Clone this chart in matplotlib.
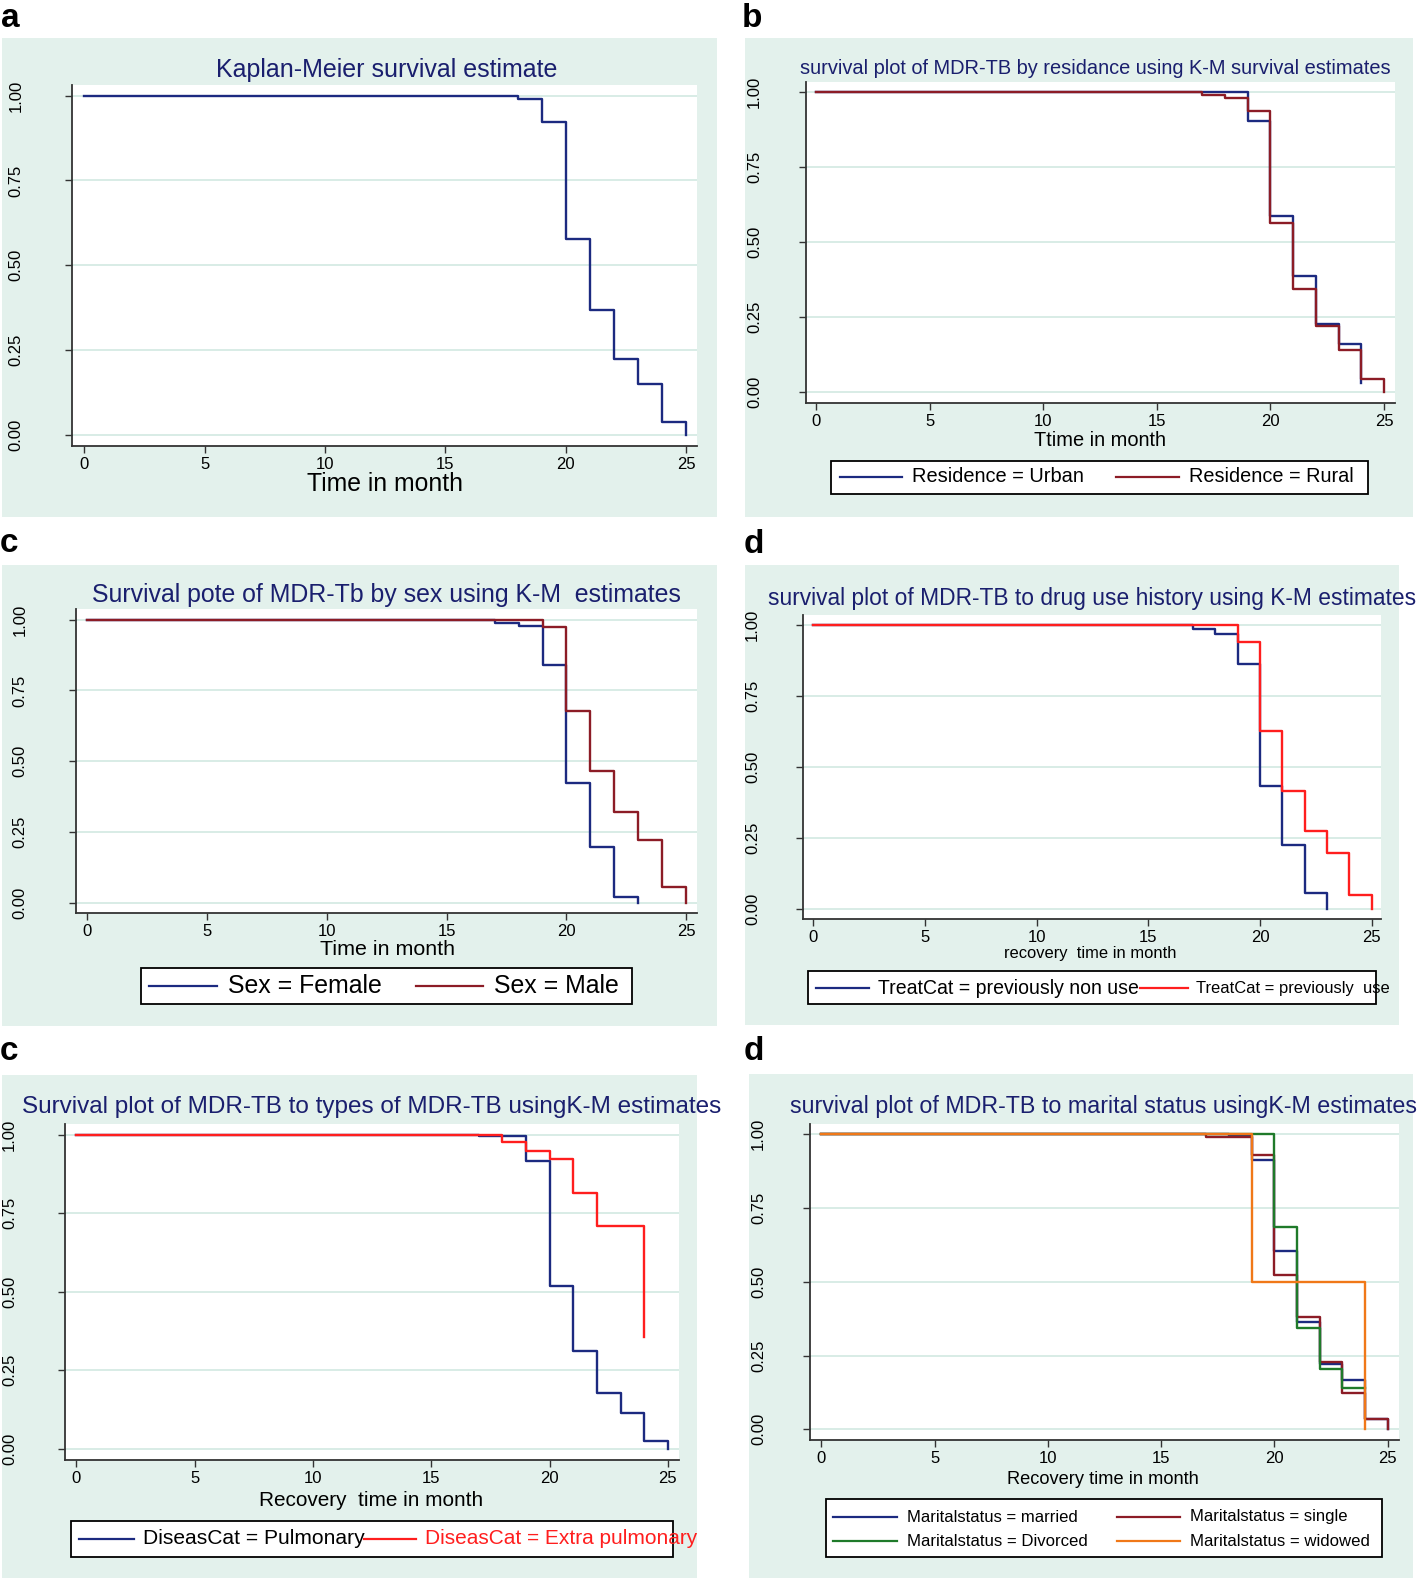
import matplotlib
matplotlib.use("Agg")
import matplotlib.pyplot as plt
from matplotlib.patches import Rectangle
from matplotlib.lines import Line2D

plt.rcParams['font.family'] = ['Liberation Sans', 'DejaVu Sans']

# ---- data: Kaplan-Meier steps (time in month, survival after the drop) ----
all_t = [0, 17, 18, 19, 20, 21, 22, 23, 24, 25]
all_s = [1.0, 0.998, 0.990, 0.921, 0.577, 0.367, 0.224, 0.151, 0.036, 0.0]

urban_t = [0, 19, 20, 21, 22, 23, 24]
urban_s = [1.0, 0.904, 0.586, 0.388, 0.227, 0.161, 0.032]
rural_t = [0, 17, 18, 19, 20, 21, 22, 23, 24, 25]
rural_s = [1.0, 0.992, 0.982, 0.939, 0.563, 0.343, 0.220, 0.142, 0.043, 0.0]

female_t = [0, 17, 18, 19, 20, 21, 22, 23]
female_s = [1.0, 0.990, 0.979, 0.841, 0.422, 0.197, 0.021, 0.0]
male_t = [0, 19, 20, 21, 22, 23, 24, 25]
male_s = [1.0, 0.975, 0.676, 0.464, 0.320, 0.223, 0.055, 0.0]

nonuse_t = [0, 17, 18, 19, 20, 21, 22, 23]
nonuse_s = [1.0, 0.986, 0.969, 0.863, 0.431, 0.226, 0.056, 0.0]
use_t = [0, 19, 20, 21, 22, 23, 24, 25]
use_s = [1.0, 0.940, 0.625, 0.414, 0.274, 0.197, 0.047, 0.0]

pulm_t = [0, 17, 19, 20, 21, 22, 23, 24, 25]
pulm_s = [1.0, 0.994, 0.916, 0.517, 0.310, 0.177, 0.114, 0.026, 0.0]
extra_t = [0, 18, 19, 20, 21, 22, 24]
extra_s = [1.0, 0.975, 0.949, 0.922, 0.814, 0.710, 0.356]

married_t = [0, 18, 19, 20, 21, 22, 23, 24, 25]
married_s = [1.0, 0.993, 0.912, 0.603, 0.363, 0.220, 0.167, 0.034, 0.0]
single_t = [0, 17, 19, 20, 21, 22, 23, 24, 25]
single_s = [1.0, 0.989, 0.930, 0.522, 0.380, 0.229, 0.123, 0.036, 0.0]
divorced_t = [0, 20, 21, 22, 23, 24]
divorced_s = [1.0, 0.684, 0.343, 0.206, 0.139, 0.139]
widowed_t = [0, 19, 24]
widowed_s = [1.0, 0.5, 0.0]

x_ticks = [0, 5, 10, 15, 20, 25]
y_ticks = [0, 0.25, 0.5, 0.75, 1.0]
y_labels = ["0.00", "0.25", "0.50", "0.75", "1.00"]

# ---- colours ----
BG = '#e3f1ec'
TITLE = '#1a1f6e'
NAVY = '#1c2a80'
MAROON = '#8c1c26'
RED = '#ff1e1e'
GREEN = '#1f7a2a'
ORANGE = '#f07818'

W, H = 1417, 1578
fig = plt.figure(figsize=(W / 100, H / 100), dpi=100)
to_fit = []


def fx(x):
    return x / W


def fy(y):
    return 1 - y / H


def text(x, y, s, width=None, ha='left', color='black', size=12, **kw):
    t = fig.text(fx(x), fy(y), s, ha=ha, va='center', color=color,
                 fontsize=size, **kw)
    if width:
        to_fit.append((t, width))
    return t


def background(x0, y0, x1, y1):
    fig.add_artist(Rectangle((fx(x0), fy(y1)), (x1 - x0) / W, (y1 - y0) / H,
                             transform=fig.transFigure, facecolor=BG,
                             edgecolor='none', zorder=-5))


def km_axes(left, top, right, bottom, x0px, x25px, y1px, y0px, ypad):
    ax = fig.add_axes([fx(left), fy(bottom), (right - left) / W, (bottom - top) / H])
    ux = (x25px - x0px) / 25
    ax.set_xlim((left - x0px) / ux, (right - x0px) / ux)
    uy = y0px - y1px
    ax.set_ylim((y0px - bottom) / uy, (y0px - top) / uy)
    ax.set_facecolor('white')
    for s in ['top', 'right']:
        ax.spines[s].set_visible(False)
    for s in ['left', 'bottom']:
        ax.spines[s].set_color('#333333')
        ax.spines[s].set_linewidth(1.3)
    ax.set_xticks(x_ticks)
    ax.set_yticks(y_ticks)
    ax.set_yticklabels(y_labels, rotation=90, va='center')
    ax.tick_params(axis='both', direction='out', length=5, width=1,
                   color='#333333', labelsize=12)
    ax.tick_params(axis='x', pad=3)
    ax.tick_params(axis='y', pad=ypad - 1)
    ax.grid(axis='y', color='#d6ebe4', lw=1.3)
    ax.set_axisbelow(True)
    return ax


def legend_box(x0, y0, x1, y1):
    fig.add_artist(Rectangle((fx(x0), fy(y1)), (x1 - x0) / W, (y1 - y0) / H,
                             transform=fig.transFigure, facecolor='white',
                             edgecolor='black', lw=1.3, zorder=2))


def legend_entry(lx0, lx1, y, color, tx, s, width, tcolor='black'):
    fig.add_artist(Line2D([fx(lx0), fx(lx1)], [fy(y), fy(y)],
                          transform=fig.transFigure, color=color, lw=1.6, zorder=3))
    text(tx, y, s, width=width, color=tcolor, zorder=4)


def panel_label(x, y, s):
    fig.text(fx(x), fy(y), s, ha='left', va='baseline', fontsize=24,
             fontweight='bold', color='black')


LW = 1.7

# ---- a ----
panel_label(1, 27, 'a')
background(2, 38, 717, 517)
ax = km_axes(72, 85, 697, 446, 84.1, 686.3, 95.7, 434.7, 31)
ax.step(all_t, all_s, where='post', color=NAVY, lw=LW)
text(216, 70, "Kaplan-Meier survival estimate", width=340, color=TITLE)
text(385, 484, "Time in month", width=156, ha='center')

# ---- b ----
panel_label(742, 27, 'b')
background(745, 38, 1413, 517)
ax = km_axes(806, 82, 1395, 403, 816.4, 1384, 92.3, 392.3, 27.7)
ax.step(urban_t, urban_s, where='post', color=NAVY, lw=LW)
ax.step(rural_t, rural_s, where='post', color=MAROON, lw=LW)
text(800, 69, "survival plot of MDR-TB by residance using K-M survival estimates",
     width=592, color=TITLE)
text(1100, 441, "Ttime in month", width=132, ha='center')
legend_box(831, 461, 1368, 494)
legend_entry(840, 902, 477, NAVY, 912, "Residence = Urban", 172)
legend_entry(1116, 1179, 477, MAROON, 1189, "Residence = Rural", 165)

# ---- c (sex) ----
panel_label(0, 552, 'c')
background(2, 565, 717, 1026)
ax = km_axes(76, 609, 697, 913, 87.3, 686.3, 619.7, 902.7, 30.8)
ax.step(female_t, female_s, where='post', color=NAVY, lw=LW)
ax.step(male_t, male_s, where='post', color=MAROON, lw=LW)
text(92, 595, "Survival pote of MDR-Tb by sex using K-M  estimates",
     width=590, color=TITLE)
text(387, 949, "Time in month", width=135, ha='center')
legend_box(141, 968, 632, 1004)
legend_entry(149, 217, 986, NAVY, 228, "Sex = Female", 154)
legend_entry(416, 483, 986, MAROON, 494, "Sex = Male", 125)

# ---- d (drug use) ----
panel_label(744, 553, 'd')
background(745, 565, 1399, 1025)
ax = km_axes(803, 615, 1381, 919, 813.3, 1371.6, 625, 908.7, 26.8)
ax.step(nonuse_t, nonuse_s, where='post', color=NAVY, lw=LW)
ax.step(use_t, use_s, where='post', color=RED, lw=LW)
text(768, 598, "survival plot of MDR-TB to drug use history using K-M estimates",
     width=648, color=TITLE)
text(1090, 953, "recovery  time in month", width=172, ha='center')
legend_box(808, 971, 1376, 1004)
legend_entry(816, 869, 988, NAVY, 878, "TreatCat = previously non use", 262)
legend_entry(1140, 1188, 988, RED, 1196, "TreatCat = previously  use", 192)

# ---- c (disease type) ----
panel_label(0, 1060, 'c')
background(2, 1075, 697, 1578)
ax = km_axes(65, 1124, 679, 1460, 76.3, 667.9, 1134.6, 1448.8, 30.6)
ax.step(pulm_t, pulm_s, where='post', color=NAVY, lw=LW)
ax.step(extra_t, extra_s, where='post', color=RED, lw=LW)
text(22, 1107, "Survival plot of MDR-TB to types of MDR-TB usingK-M estimates",
     width=698, color=TITLE)
text(371, 1500, "Recovery  time in month", width=225, ha='center')
legend_box(71, 1521, 673, 1557)
legend_entry(79, 134, 1539, NAVY, 143, "DiseasCat = Pulmonary", 221)
legend_entry(364, 416, 1539, RED, 425, "DiseasCat = Extra pulmonary", 272, tcolor=RED)

# ---- d (marital status) ----
panel_label(744, 1060, 'd')
background(749, 1074, 1413, 1578)
ax = km_axes(810, 1124, 1399, 1440, 821.3, 1387.6, 1134.2, 1429.3, 27.7)
ax.step(married_t, married_s, where='post', color=NAVY, lw=LW)
ax.step(single_t, single_s, where='post', color=MAROON, lw=LW)
ax.step(divorced_t, divorced_s, where='post', color=GREEN, lw=LW)
ax.step(widowed_t, widowed_s, where='post', color=ORANGE, lw=LW)
text(790, 1107, "survival plot of MDR-TB to marital status usingK-M estimates",
     width=627, color=TITLE)
text(1103, 1480, "Recovery time in month", width=192, ha='center')
legend_box(826, 1499, 1382, 1557)
legend_entry(833, 897, 1517, NAVY, 907, "Maritalstatus = married", 171)
legend_entry(1117, 1180, 1517, MAROON, 1190, "Maritalstatus = single", 158)
legend_entry(833, 897, 1541, GREEN, 907, "Maritalstatus = Divorced", 181)
legend_entry(1117, 1180, 1541, ORANGE, 1190, "Maritalstatus = widowed", 180)

# scale text so that its width matches the reference
for _ in range(2):
    fig.canvas.draw()
    r = fig.canvas.get_renderer()
    for t, w in to_fit:
        bb = t.get_window_extent(r)
        t.set_fontsize(t.get_fontsize() * w / bb.width)

fig.savefig("out.png", dpi=100, facecolor='w')
